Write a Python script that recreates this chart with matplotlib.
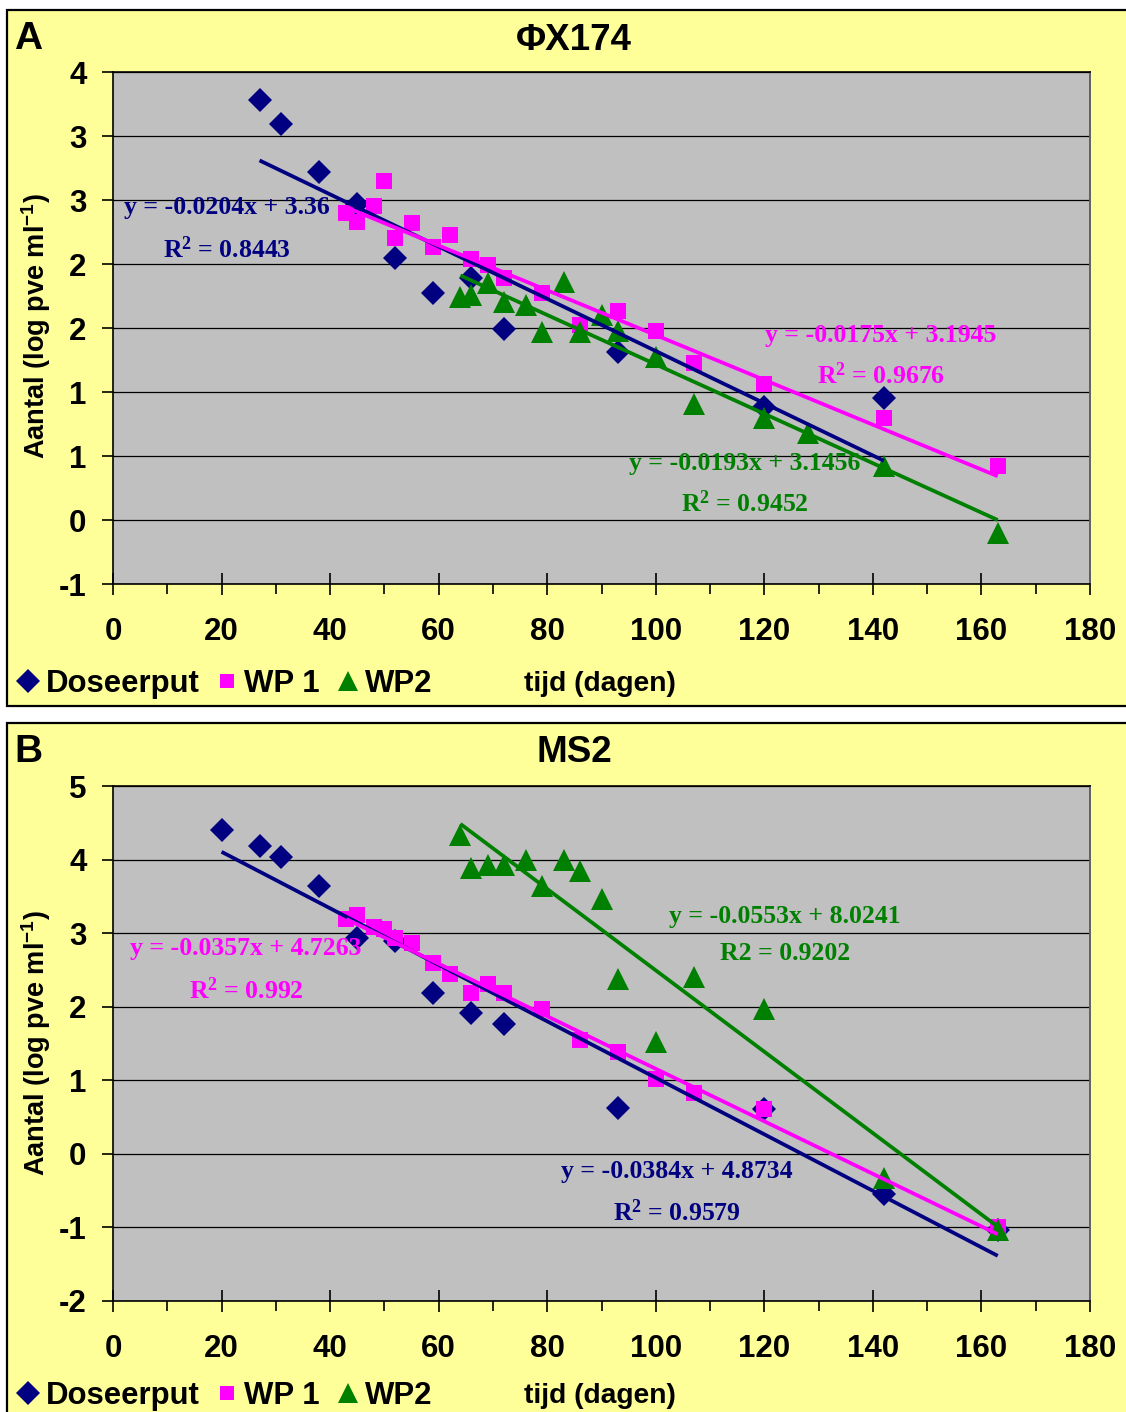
import matplotlib
matplotlib.use("Agg")
import matplotlib.pyplot as plt
from matplotlib.lines import Line2D
from matplotlib.patches import Rectangle
import numpy as np

# ---------------- data: panel A (PhiX174) ----------------
a_dose_x = [27, 31, 38, 45, 52, 59, 66, 72, 93, 120, 142]
a_dose_y = [3.28, 3.09, 2.72, 2.47, 2.05, 1.77, 1.89, 1.49, 1.31, 0.88, 0.95]
a_wp1_x = [43, 45, 48, 50, 52, 55, 59, 62, 66, 69, 72, 79, 86, 93, 100, 107, 120, 142, 163]
a_wp1_y = [2.40, 2.33, 2.45, 2.65, 2.20, 2.32, 2.13, 2.23, 2.04, 1.99, 1.89, 1.77,
           1.52, 1.63, 1.48, 1.23, 1.06, 0.80, 0.42]
a_wp2_x = [64, 66, 69, 72, 76, 79, 83, 86, 90, 93, 100, 107, 120, 128, 142, 163]
a_wp2_y = [1.74, 1.76, 1.85, 1.70, 1.68, 1.47, 1.86, 1.47, 1.60, 1.48, 1.27, 0.91,
           0.80, 0.68, 0.42, -0.10]
a_slopes = [-0.0204, -0.0175, -0.0193]
a_intercepts = [3.36, 3.1945, 3.1456]
a_r2 = ["0.8443", "0.9676", "0.9452"]
a_yticks = [-0.5, 0.0, 0.5, 1.0, 1.5, 2.0, 2.5, 3.0, 3.5]
a_yticklabels = ["-1", "0", "1", "1", "2", "2", "3", "3", "4"]

# ---------------- data: panel B (MS2) ----------------
b_dose_x = [20, 27, 31, 38, 45, 52, 59, 66, 72, 93, 120, 142, 163]
b_dose_y = [4.40, 4.18, 4.03, 3.64, 2.93, 2.90, 2.18, 1.92, 1.77, 0.63, 0.61, -0.55, -1.03]
b_wp1_x = [43, 45, 48, 50, 52, 55, 59, 62, 66, 69, 72, 79, 86, 93, 100, 107, 120, 163]
b_wp1_y = [3.19, 3.24, 3.08, 3.05, 2.94, 2.86, 2.59, 2.45, 2.18, 2.31, 2.18, 1.97,
           1.55, 1.39, 1.02, 0.83, 0.61, -0.99]
b_wp2_x = [64, 66, 69, 72, 76, 79, 83, 86, 90, 93, 100, 107, 120, 142, 163]
b_wp2_y = [4.33, 3.88, 3.92, 3.92, 4.00, 3.64, 4.00, 3.85, 3.46, 2.38, 1.52, 2.41,
           1.97, -0.33, -1.03]
b_slopes = [-0.0384, -0.0357, -0.0553]
b_intercepts = [4.8734, 4.7263, 8.0241]
b_r2 = ["0.9579", "0.992", "0.9202"]
b_yticks = [-2, -1, 0, 1, 2, 3, 4, 5]
b_yticklabels = ["-2", "-1", "0", "1", "2", "3", "4", "5"]

xticks = [0, 20, 40, 60, 80, 100, 120, 140, 160, 180]
series_names = ["Doseerput", "WP 1", "WP2"]

# ---------------- styling ----------------
NAVY, MAGENTA, GREEN = "#000080", "#FF00FF", "#008000"
YELLOW, GREY = "#FFFF99", "#C0C0C0"
colors = [NAVY, MAGENTA, GREEN]
markers = ["D", "s", "^"]
msizes = [12, 11.5, 16.5]

SANS = "Liberation Sans"
SERIF = "Liberation Serif"
plt.rcParams["mathtext.fontset"] = "custom"
plt.rcParams["mathtext.rm"] = SANS
plt.rcParams["mathtext.bf"] = SANS + ":bold"
plt.rcParams["mathtext.default"] = "bf"

W, H = 1126, 1412
fig = plt.figure(figsize=(W / 100, H / 100), dpi=100, facecolor="white")


def fx(px):
    return px / W


def fy(py):
    return 1 - py / H


# panel backgrounds with black frames (kept behind the axes)
for top, bottom in [(10, 706), (723, 1425)]:
    fig.patches.append(Rectangle((fx(7), fy(bottom)), fx(1150) - fx(7), fy(top) - fy(bottom),
                                 transform=fig.transFigure, facecolor=YELLOW,
                                 edgecolor="black", lw=1.6, zorder=-10))


def draw_panel(ax, xs, slopes, intercepts, r2s, r2_labels, eq_pos, yticks, yticklabels, ylim):
    ax.set_facecolor(GREY)
    ax.set_xlim(0, 180)
    ax.set_ylim(*ylim)
    ax.set_yticks(yticks)
    ax.set_yticklabels(yticklabels)
    ax.set_xticks(xticks)
    ax.set_xticks(np.arange(10, 180, 20), minor=True)
    ax.set_xticklabels([str(t) for t in xticks])
    for lab in ax.get_xticklabels() + ax.get_yticklabels():
        lab.set_fontfamily(SANS)
        lab.set_fontweight("bold")
        lab.set_fontsize(22.5)
    ax.tick_params(axis="x", which="major", direction="inout", length=16, width=1.2, pad=16)
    ax.tick_params(axis="x", which="minor", direction="out", length=7, width=1.2)
    ax.tick_params(axis="y", which="major", direction="out", length=8, width=1.2, pad=11)
    ax.grid(axis="y", color="black", lw=0.9, zorder=1)
    ax.set_axisbelow(True)
    for side in ["left", "bottom", "top"]:
        ax.spines[side].set_color("black")
        ax.spines[side].set_linewidth(1.2)
    ax.spines["right"].set_color("#606060")
    ax.spines["right"].set_linewidth(1.4)

    for (x, y), c, m, ms in zip(xs, colors, markers, msizes):
        ax.plot(x, y, ls="none", marker=m, color=c, markersize=ms, markeredgewidth=0, zorder=3)
    for (x, _), c, k, b in zip(xs, colors, slopes, intercepts):
        xr = np.array([min(x), max(x)])
        ax.plot(xr, k * xr + b, color=c, lw=2.7, zorder=4, solid_capstyle="butt")
    for c, k, b, r2, rl, (ex, ey, ry) in zip(colors, slopes, intercepts, r2s, r2_labels, eq_pos):
        sign = "-" if k < 0 else ""
        ax.text(ex, ey, f"y = {sign}{abs(k):g}x + {b:g}", color=c, fontfamily=SERIF,
                fontweight="bold", fontsize=18.5, ha="center", va="center", zorder=5)
        ax.text(ex, ry, f"{rl} = {r2}", color=c, fontfamily=SERIF,
                fontweight="bold", fontsize=18.5, ha="center", va="center", zorder=5)


R2_SUP = r"$\mathregular{R^{2}}$"

axA = fig.add_axes([fx(113), fy(584), fx(1090) - fx(113), fy(72) - fy(584)])
draw_panel(axA,
           [(a_dose_x, a_dose_y), (a_wp1_x, a_wp1_y), (a_wp2_x, a_wp2_y)],
           a_slopes, a_intercepts, a_r2, [R2_SUP, R2_SUP, R2_SUP],
           [(21.0, 2.44, 2.11), (141.5, 1.445, 1.125), (116.4, 0.445, 0.125)],
           a_yticks, a_yticklabels, (-0.5, 3.5))

axB = fig.add_axes([fx(113), fy(1301), fx(1090) - fx(113), fy(786) - fy(1301)])
draw_panel(axB,
           [(b_dose_x, b_dose_y), (b_wp1_x, b_wp1_y), (b_wp2_x, b_wp2_y)],
           b_slopes, b_intercepts, b_r2, [R2_SUP, R2_SUP, "R2"],
           [(103.9, -0.24, -0.80), (24.5, 2.79, 2.22), (123.8, 3.23, 2.72)],
           b_yticks, b_yticklabels, (-2, 5))

# titles, panel letters, axis labels and legends
for title, letter, ty, ly, legy, ylab_y in [("ΦX174", "A", 40, 39, 684, 326),
                                              ("MS2", "B", 753, 752, 1396, 1043)]:
    fig.text(fx(574), fy(ty), title, fontfamily=SANS, fontweight="bold", fontsize=26.5,
             ha="center", va="center")
    fig.text(fx(14), fy(ly), letter, fontfamily=SANS, fontweight="bold", fontsize=28,
             ha="left", va="center")
    fig.text(fx(36), fy(ylab_y), r"Aantal (log pve ml$^{-1}$)", fontfamily=SANS,
             fontweight="bold", fontsize=19.5, rotation=90, ha="center", va="center")
    fig.text(fx(600), fy(legy), "tijd (dagen)", fontfamily=SANS, fontweight="bold",
             fontsize=20.3, ha="center", va="center")
    handles = [Line2D([], [], ls="none", marker=m, color=c, markersize=s, markeredgewidth=0)
               for m, c, s in zip(markers, colors, [12, 10.5, 15])]
    leg = fig.legend(handles, series_names, loc="center left",
                     bbox_to_anchor=(fx(19), fy(legy)), ncol=3, frameon=False,
                     handlelength=0.6, handletextpad=0.25, columnspacing=0.6,
                     borderpad=0, borderaxespad=0,
                     prop={"family": SANS, "weight": "bold", "size": 22.4})

fig.savefig("out.png", dpi=100, facecolor="white")
